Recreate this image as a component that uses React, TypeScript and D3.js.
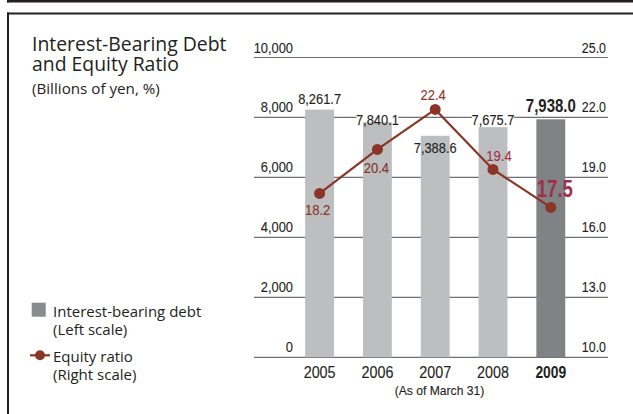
import React from "react";
import * as d3 from "d3";

const years = ["2005", "2006", "2007", "2008", "2009"];
const debt = [8261.7, 7840.1, 7388.6, 7675.7, 7938.0];
const debtLabels = ["8,261.7", "7,840.1", "7,388.6", "7,675.7", "7,938.0"];
const equity = [18.2, 20.4, 22.4, 19.4, 17.5];
const leftTicks = [0, 2000, 4000, 6000, 8000, 10000];
const rightTicks = [10, 13, 16, 19, 22, 25];

const W = 633;
const H = 414;
const NUM = "'Liberation Sans',Arial,sans-serif";
const TXT = "'Open Sans','Noto Sans',sans-serif";
const INK = "#231f20";
const GRID = "#6d6e71";
const BAR = "#bcbec0";
const BAR_HI = "#808285";
const LINE = "#8a3527";
const LINE_HI = "#a0304a";

// label layout offsets (pixels), per bar
const barLabelDy = [-6, 3, 17.7, -2, -7.5];
const ptLabelDx = [-2, -1, -2, 6, 4];
const ptLabelDy = [21.7, 23.7, -9.3, -8.6, -10.6];

type NTProps = {
  x: number;
  y: number;
  sx?: number;
  size: number;
  anchor?: string;
  bold?: boolean;
  fill?: string;
  children: React.ReactNode;
};

function NT({ x, y, sx = 0.87, size, anchor = "start", bold, fill = INK, children }: NTProps) {
  return (
    <text
      transform={`translate(${x},${y}) scale(${sx},1)`}
      x={0}
      y={0}
      textAnchor={anchor as any}
      fontFamily={NUM}
      fontSize={size}
      fontWeight={bold ? "bold" : "normal"}
      fill={fill}
      stroke={bold ? "none" : fill}
      strokeWidth={0.12}
    >
      {children}
    </text>
  );
}

export default function App() {
  const y0 = 357.3;
  const y1 = 57.5;
  const gx0 = 254;
  const gx1 = 608;
  const yL = d3.scaleLinear().domain([0, 10000]).range([y0, y1]);
  const yR = d3.scaleLinear().domain([10, 25]).range([y0, y1]);
  const x = d3
    .scaleBand<string>()
    .domain(years)
    .range([290.7, 579.7])
    .paddingInner(0.5)
    .paddingOuter(0.25);
  const cx = (i: number) => (x(years[i]) as number) + x.bandwidth() / 2;
  const line = d3
    .line<number>()
    .x((_, i) => cx(i))
    .y((d) => yR(d));
  const last = years.length - 1;

  return (
    <svg
      width={W}
      height={H}
      style={{ position: "absolute", left: 0, top: 0, background: "#fff" }}
    >
      {/* frame */}
      <line x1={7} x2={W} y1={1.3} y2={1.3} stroke={INK} strokeWidth={2.6} />
      <line x1={8} x2={8} y1={0} y2={2.5} stroke={INK} strokeWidth={2} />
      <line x1={7} x2={W} y1={13.5} y2={13.5} stroke={INK} strokeWidth={2} />
      <line x1={8} x2={8} y1={12.5} y2={H} stroke={INK} strokeWidth={2} />

      {/* title */}
      <text x={32} y={51} fontFamily={TXT} fontSize={19.4} fill={INK}>
        Interest-Bearing Debt
      </text>
      <text x={32} y={70.5} fontFamily={TXT} fontSize={19.4} fill={INK}>
        and Equity Ratio
      </text>
      <text x={32} y={94} fontFamily={TXT} fontSize={15.2} fill={INK}>
        (Billions of yen, %)
      </text>

      {/* gridlines */}
      {leftTicks.map((t) => (
        <line
          key={"g" + t}
          x1={gx0}
          x2={gx1}
          y1={yL(t)}
          y2={yL(t)}
          stroke={GRID}
          strokeWidth={1.2}
        />
      ))}
      {leftTicks.map((t) => (
        <NT key={"l" + t} x={293} y={yL(t) - 5} anchor="end" size={14.8}>
          {d3.format(",")(t)}
        </NT>
      ))}
      {rightTicks.map((t) => (
        <NT key={"r" + t} x={606} y={yR(t) - 5} anchor="end" size={14.8} sx={0.84}>
          {t.toFixed(1)}
        </NT>
      ))}

      {/* white masks behind bar labels */}
      {debt.map((d, i) => {
        const w = i === last ? 52 : 42;
        const by = yL(d) + barLabelDy[i];
        return (
          <rect
            key={"m" + i}
            x={cx(i) - w / 2}
            y={by - 12}
            width={w}
            height={13}
            fill="#fff"
          />
        );
      })}

      {/* bars */}
      {debt.map((d, i) => (
        <rect
          key={"b" + i}
          x={x(years[i])}
          y={yL(d)}
          width={x.bandwidth()}
          height={y0 - yL(d)}
          fill={i === last ? BAR_HI : BAR}
        />
      ))}

      {/* bar labels */}
      {debt.map((d, i) => (
        <NT
          key={"bl" + i}
          x={cx(i)}
          y={yL(d) + barLabelDy[i]}
          anchor="middle"
          size={i === last ? 18.7 : 14.8}
          sx={i === last ? 0.8 : 0.87}
          bold={i === last}
        >
          {debtLabels[i]}
        </NT>
      ))}

      {/* equity line */}
      <path d={line(equity) || ""} fill="none" stroke={LINE} strokeWidth={2.2} />
      {equity.map((e, i) => (
        <circle key={"c" + i} cx={cx(i)} cy={yR(e)} r={5.5} fill={LINE} />
      ))}
      {equity.map((e, i) => (
        <NT
          key={"el" + i}
          x={cx(i) + ptLabelDx[i]}
          y={yR(e) + ptLabelDy[i]}
          anchor="middle"
          size={i === last ? 23.3 : 15.3}
          sx={i === last ? 0.8 : 0.85}
          bold={i === last}
          fill={i >= 3 ? LINE_HI : LINE}
        >
          {e.toFixed(1)}
        </NT>
      ))}

      {/* x labels */}
      {years.map((yv, i) => (
        <NT
          key={"x" + yv}
          x={cx(i)}
          y={378}
          anchor="middle"
          size={16.3}
          sx={i === last ? 0.85 : 0.88}
          bold={i === last}
        >
          {yv}
        </NT>
      ))}
      <NT x={439.5} y={395} anchor="middle" size={13.2} sx={0.92}>
        (As of March 31)
      </NT>

      {/* legend */}
      <rect x={31.7} y={302.7} width={14} height={14} fill="#8a8b8e" />
      <text x={53} y={316.5} fontFamily={TXT} fontSize={15} fill={INK}>
        Interest-bearing debt
      </text>
      <text x={53} y={335} fontFamily={TXT} fontSize={15} fill={INK}>
        (Left scale)
      </text>
      <line x1={30} x2={50} y1={355.3} y2={355.3} stroke={LINE} strokeWidth={2.2} />
      <circle cx={40} cy={355.3} r={5} fill={LINE} />
      <text x={53} y={361.5} fontFamily={TXT} fontSize={15} fill={INK}>
        Equity ratio
      </text>
      <text x={53} y={379.5} fontFamily={TXT} fontSize={15} fill={INK}>
        (Right scale)
      </text>
    </svg>
  );
}
